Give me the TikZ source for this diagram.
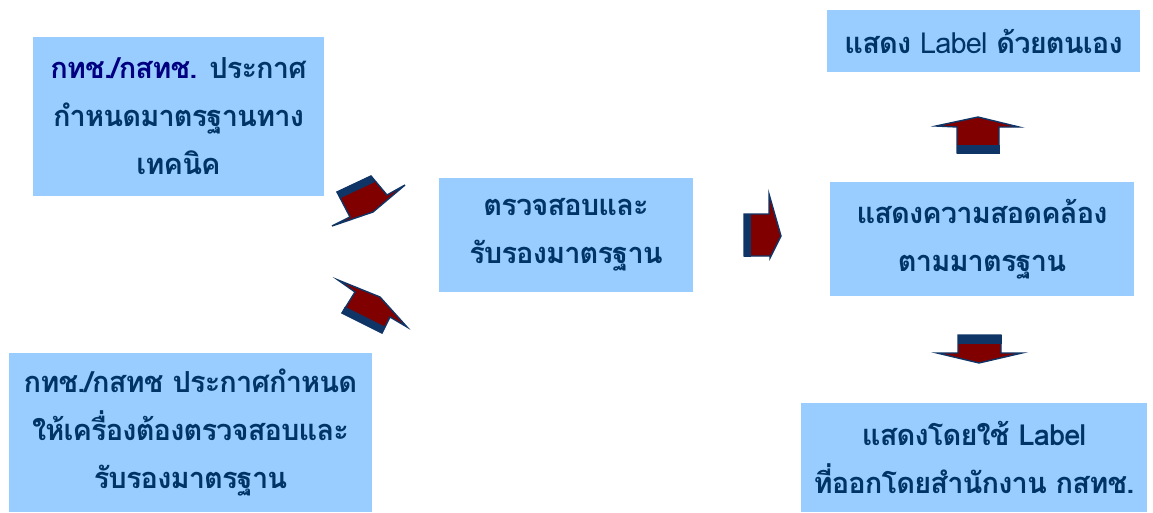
\documentclass[tikz,border=0pt]{standalone}
\usepackage{fontspec}
\setmainfont[Script=Thai,LetterSpace=-3]{Loma}
\begin{document}
\begin{tikzpicture}[x=1pt,y=-1pt,
  box/.style={draw=none,fill=boxblue,inner sep=0pt,align=center,text=txtblue,
    font=\bfseries\fontsize{29}{48}\selectfont},
  arrowbody/.style={fill=arrred,draw=arrnavy,line width=1.4pt,line join=miter},
  arrband/.style={fill=arrnavy,draw=arrnavy,line width=0.6pt}]
\definecolor{boxblue}{HTML}{99CCFF}
\definecolor{txtblue}{HTML}{003366}
\definecolor{navytxt}{HTML}{000080}
\definecolor{arrred}{HTML}{800000}
\definecolor{arrnavy}{HTML}{0F3566}
\useasboundingbox[fill=white] (0,0) rectangle (1153,512);

% boxes
\node[box,minimum width=291,minimum height=159] (a) at (178.5,116.5)
  {{\color{navytxt}กทช./กสทช.} ประกาศ\\กำหนดมาตรฐานทาง\\เทคนิค};
\node[box,minimum width=363,minimum height=159] (b) at (190.5,432.5)
  {กทช./กสทช ประกาศกำหนด\\ให้เครื่องต้องตรวจสอบและ\\รับรองมาตรฐาน};
\node[box,minimum width=254,minimum height=114] (c) at (566,235)
  {ตรวจสอบและ\\รับรองมาตรฐาน};
\node[box,minimum width=313,minimum height=62] (d) at (983.5,41)
  {แสดง {\mdseries Label} ด้วยตนเอง};
\node[box,minimum width=304,minimum height=114] (e) at (982,239)
  {แสดงความสอดคล้อง\\ตามมาตรฐาน};
\node[box,minimum width=346,minimum height=109] (f) at (974,457.5)
  {แสดงโดยใช้ Label\\ที่ออกโดยสำนักงาน กสทช.};

% arrow from a (pointing down-right)
\draw[arrowbody] (337,192) -- (371,176) -- (387,195) -- (405,185) -- (373,212)
  -- (332,226) -- (350,217) -- cycle;
\draw[arrband] (337,192) -- (371,176) -- (374,182) -- (340,198) -- cycle;

% arrow from b (pointing up-right)
\draw[arrowbody] (338,280) -- (380,297) -- (407,327) -- (390,317) -- (382,333)
  -- (342,313) -- (355,292) -- cycle;
\draw[arrband] (342,313) -- (382,333) -- (385,327) -- (345,307) -- cycle;

% arrow c -> e (right)
\draw[arrowbody] (744,214) -- (769,214) -- (769,194) -- (781,236) -- (770,258)
  -- (770,256) -- (744,256) -- cycle;
\draw[arrband] (744,214) -- (750,214) -- (750,256) -- (744,256) -- cycle;

% arrow e -> d (up)
\draw[arrowbody] (957,153) -- (957,127) -- (936,126) -- (978,117) -- (1019,127)
  -- (999,127) -- (999,153) -- cycle;
\draw[arrband] (957,145) -- (999,145) -- (999,153) -- (957,153) -- cycle;

% arrow e -> f (down)
\draw[arrowbody] (958,335) -- (1001,335) -- (1001,353) -- (1022,353) -- (979,363)
  -- (937,353) -- (958,353) -- cycle;
\draw[arrband] (958,335) -- (1001,335) -- (1001,343) -- (958,343) -- cycle;
\end{tikzpicture}
\end{document}
